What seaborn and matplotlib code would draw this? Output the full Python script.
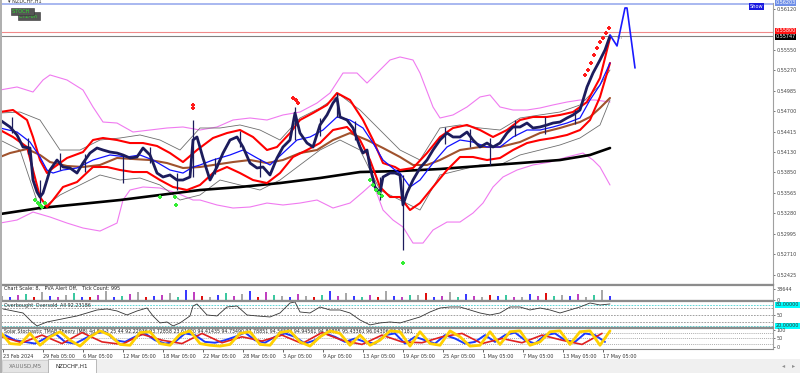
import numpy as np
import matplotlib
matplotlib.use("Agg")
import matplotlib.pyplot as plt
import matplotlib.patches as mpatches
import seaborn as sns

# ---- data (x = chart position, y = price) ----
close_x = [0, 10, 17, 23, 30, 33, 37, 40, 43, 47, 50, 57, 63, 70, 77, 83, 90, 97, 103, 110,
           117, 123, 130, 137, 143, 150, 157, 163, 170, 177, 183, 190, 193, 197, 203, 210, 217,
           223, 230, 237, 243, 250, 257, 263, 270, 277, 283, 290, 295, 300, 307, 313, 320, 327,
           333, 337, 340, 347, 353, 360, 363, 367, 370, 375, 380, 383, 390, 395, 400, 403, 407,
           413, 420, 427, 433, 440, 447, 453, 460, 467, 473, 480, 487, 493, 500, 507, 513, 520,
           527, 533, 540, 547, 553, 560, 567, 573, 580, 587, 593, 600, 605, 610]
close = [0.54577, 0.54480, 0.54369, 0.54202, 0.54188, 0.53743, 0.53576, 0.53507, 0.53562, 0.53743,
         0.53882, 0.54021, 0.53924, 0.53910, 0.53840, 0.53979, 0.54118, 0.54188, 0.54160, 0.54132,
         0.54118, 0.54091, 0.54049, 0.54063, 0.54188, 0.54091, 0.53840, 0.53785, 0.53813, 0.53743,
         0.53743, 0.53785, 0.54299, 0.54341, 0.54049, 0.53743, 0.53924, 0.54118, 0.54299, 0.54341,
         0.54202, 0.53979, 0.53910, 0.53924, 0.53813, 0.54049, 0.54202, 0.54299, 0.54674, 0.54396,
         0.54257, 0.54202, 0.54508, 0.54647, 0.54813, 0.54883, 0.54619, 0.54577, 0.54466, 0.54202,
         0.54118, 0.54160, 0.53924, 0.53646, 0.53562, 0.53785, 0.53840, 0.53840, 0.53813, 0.53396,
         0.53562, 0.53743, 0.53910, 0.54021, 0.54160, 0.54299, 0.54396, 0.54341, 0.54341, 0.54410,
         0.54299, 0.54202, 0.54257, 0.54202, 0.54257, 0.54396, 0.54480, 0.54480, 0.54535, 0.54466,
         0.54480, 0.54508, 0.54535, 0.54549, 0.54605, 0.54647, 0.54716, 0.55036, 0.55230, 0.55411,
         0.55550, 0.55745]

wick_x = [12, 28, 40, 60, 85, 123, 150, 177, 193, 215, 240, 260, 295, 320, 337, 355, 380, 403,
          445, 470, 490, 515, 545, 575]
wick_hi = [0.54620, 0.54330, 0.53743, 0.54120, 0.54100, 0.54091, 0.54200, 0.53840, 0.54577,
           0.54050, 0.54420, 0.54030, 0.54758, 0.54600, 0.54952, 0.54560, 0.53785, 0.53813,
           0.54480, 0.54450, 0.54330, 0.54580, 0.54620, 0.54720]
wick_lo = [0.54400, 0.54100, 0.53368, 0.53880, 0.53860, 0.53701, 0.53980, 0.53604, 0.53785,
           0.53820, 0.54200, 0.53780, 0.54299, 0.54350, 0.54619, 0.54300, 0.53465, 0.52770,
           0.54250, 0.54200, 0.53950, 0.54350, 0.54380, 0.54520]

ma_black_x = [0, 40, 80, 120, 160, 200, 240, 280, 320, 360, 400, 440, 480, 520, 560, 590, 610]
ma_black = [0.53270, 0.53354, 0.53409, 0.53465, 0.53535, 0.53604, 0.53646, 0.53701, 0.53771,
            0.53854, 0.53868, 0.53896, 0.53938, 0.53979, 0.54021, 0.54091, 0.54188]

ma_brown_x = [0, 10, 27, 40, 50, 67, 83, 100, 117, 133, 150, 167, 183, 200, 233, 250, 267, 283,
              300, 317, 333, 350, 367, 383, 400, 413, 427, 440, 460, 480, 500, 520, 540, 560,
              580, 590, 600, 610]
ma_brown = [0.54063, 0.54118, 0.54174, 0.54091, 0.53993, 0.53938, 0.53924, 0.53952, 0.54049,
            0.54035, 0.54021, 0.53979, 0.53910, 0.53924, 0.53993, 0.54021, 0.53979, 0.54021,
            0.54118, 0.54160, 0.54299, 0.54396, 0.54299, 0.54188, 0.54063, 0.53952, 0.53952,
            0.54021, 0.54160, 0.54202, 0.54202, 0.54271, 0.54396, 0.54466, 0.54549, 0.54619,
            0.54744, 0.54883]

ma_blue_x = [0, 17, 30, 40, 47, 53, 63, 77, 93, 110, 127, 140, 153, 170, 183, 193, 200, 213,
             230, 243, 257, 270, 283, 297, 310, 323, 337, 350, 363, 373, 383, 395, 400, 410,
             420, 433, 447, 460, 473, 487, 500, 513, 527, 540, 553, 567, 580, 590, 600, 610]
ma_blue = [0.54466, 0.54410, 0.54271, 0.54063, 0.53882, 0.53840, 0.53882, 0.53910, 0.54021,
           0.54091, 0.54063, 0.54091, 0.54021, 0.53882, 0.53840, 0.53924, 0.53952, 0.54021,
           0.54091, 0.54160, 0.54049, 0.53952, 0.54118, 0.54299, 0.54341, 0.54438, 0.54619,
           0.54577, 0.54466, 0.54257, 0.54021, 0.53882, 0.53840, 0.53646, 0.53743, 0.53979,
           0.54202, 0.54299, 0.54271, 0.54202, 0.54202, 0.54341, 0.54438, 0.54438, 0.54480,
           0.54535, 0.54605, 0.54855, 0.55064, 0.55369]

env_up_x = [0, 13, 27, 33, 40, 47, 53, 67, 83, 93, 103, 117, 130, 143, 157, 170, 183, 197, 213,
            227, 240, 253, 267, 277, 290, 300, 313, 327, 337, 350, 363, 373, 383, 395, 400, 413,
            427, 440, 453, 467, 480, 493, 507, 520, 533, 547, 560, 573, 587, 600, 610]
env_up = [0.54688, 0.54716, 0.54577, 0.54341, 0.54021, 0.53840, 0.53910, 0.54049, 0.54132,
          0.54299, 0.54327, 0.54299, 0.54257, 0.54257, 0.54216, 0.54118, 0.53993, 0.54160,
          0.54327, 0.54396, 0.54438, 0.54341, 0.54160, 0.54202, 0.54396, 0.54577, 0.54674,
          0.54786, 0.54952, 0.54855, 0.54577, 0.54299, 0.53979, 0.53924, 0.53882, 0.53910,
          0.54118, 0.54341, 0.54466, 0.54508, 0.54438, 0.54341, 0.54438, 0.54577, 0.54619,
          0.54619, 0.54647, 0.54688, 0.54827, 0.55161, 0.55717]

env_lo_x = [0, 13, 27, 33, 40, 47, 53, 63, 77, 93, 107, 120, 133, 147, 160, 173, 187, 200, 213,
            227, 240, 253, 267, 280, 293, 307, 320, 333, 347, 360, 370, 380, 390, 400, 410, 420,
            433, 447, 460, 473, 487, 500, 513, 527, 540, 553, 567, 580, 590, 600, 610]
env_lo = [0.54438, 0.54341, 0.54202, 0.53882, 0.53507, 0.53368, 0.53465, 0.53646, 0.53715,
          0.53924, 0.53924, 0.53882, 0.53854, 0.53854, 0.53743, 0.53646, 0.53604, 0.53674,
          0.53840, 0.53924, 0.53840, 0.53743, 0.53701, 0.53840, 0.54063, 0.54160, 0.54257,
          0.54438, 0.54480, 0.54299, 0.54021, 0.53646, 0.53507, 0.53507, 0.53326, 0.53423,
          0.53646, 0.53882, 0.54063, 0.54063, 0.54021, 0.54049, 0.54160, 0.54257, 0.54299,
          0.54327, 0.54369, 0.54438, 0.54577, 0.54897, 0.55369]

bb_up_x = [0, 17, 33, 43, 50, 67, 83, 93, 103, 117, 133, 150, 167, 183, 200, 217, 233, 250, 267,
           283, 300, 317, 330, 343, 357, 367, 377, 390, 400, 413, 420, 433, 440, 453, 467, 480,
           490, 500, 513, 527, 540, 553, 567, 580, 595, 610]
bb_up = [0.54994, 0.55036, 0.54966, 0.55133, 0.55203, 0.55133, 0.54994, 0.54758, 0.54549,
         0.54535, 0.54410, 0.54438, 0.54466, 0.54480, 0.54438, 0.54480, 0.54577, 0.54605,
         0.54577, 0.54647, 0.54688, 0.54813, 0.54952, 0.55230, 0.55230, 0.55091, 0.55230,
         0.55411, 0.55453, 0.55411, 0.55230, 0.54758, 0.54605, 0.54647, 0.54758, 0.54897,
         0.54925, 0.54758, 0.54716, 0.54716, 0.54744, 0.54786, 0.54827, 0.54855, 0.54855,
         0.54827]

bb_lo_x = [0, 17, 33, 50, 67, 83, 100, 117, 123, 130, 143, 160, 177, 193, 200, 217, 233, 250,
           267, 283, 300, 317, 333, 350, 363, 373, 383, 393, 403, 413, 423, 433, 447, 460, 473,
           483, 493, 503, 517, 533, 550, 567, 583, 593, 600, 610]
bb_lo = [0.53145, 0.53187, 0.53298, 0.53229, 0.53145, 0.53076, 0.53034, 0.53145, 0.53465,
         0.53604, 0.53646, 0.53632, 0.53562, 0.53465, 0.53465, 0.53396, 0.53354, 0.53368,
         0.53423, 0.53396, 0.53423, 0.53465, 0.53354, 0.53423, 0.53576, 0.53701, 0.53326,
         0.53187, 0.53090, 0.52867, 0.52867, 0.53048, 0.53159, 0.53159, 0.53284, 0.53423,
         0.53646, 0.53785, 0.53882, 0.53952, 0.53993, 0.54063, 0.54118, 0.54021, 0.53924,
         0.53674]

gray_x = [0, 20, 40, 60, 80, 100, 120, 140, 160, 180, 200, 220, 240, 260, 280, 300, 320, 340,
          360, 380, 400, 420, 440, 460, 480, 500, 520, 540, 560, 580, 600, 610]
gray_up = [0.54674, 0.54688, 0.54577, 0.54160, 0.54160, 0.54299, 0.54327, 0.54369, 0.54299,
           0.54160, 0.54466, 0.54466, 0.54508, 0.54438, 0.54299, 0.54605, 0.54744, 0.54925,
           0.54716, 0.54438, 0.54160, 0.54021, 0.54466, 0.54508, 0.54466, 0.54438, 0.54605,
           0.54647, 0.54688, 0.54786, 0.55064, 0.55272]
gray_lo = [0.54299, 0.54160, 0.53326, 0.53535, 0.53674, 0.53813, 0.53743, 0.53771, 0.53674,
           0.53465, 0.53535, 0.53743, 0.53674, 0.53604, 0.53743, 0.53952, 0.54160, 0.54299,
           0.54160, 0.53604, 0.53465, 0.53326, 0.53813, 0.53882, 0.53952, 0.53952, 0.54091,
           0.54160, 0.54230, 0.54327, 0.54508, 0.54855]

buy_x = [35, 38, 40, 42, 45, 160, 175, 176, 370, 373, 376, 379, 382, 403]
buy_y = [0.53465, 0.53423, 0.53396, 0.53368, 0.53423, 0.53507, 0.53507, 0.53396, 0.53743,
         0.53674, 0.53604, 0.53562, 0.53521, 0.52589]
sell_x = [193, 193, 293, 296, 298, 585, 588, 591, 594, 597, 600, 603, 606, 609]
sell_y = [0.54786, 0.54744, 0.54883, 0.54855, 0.54813, 0.55203, 0.55272, 0.55369, 0.55480,
          0.55578, 0.55661, 0.55717, 0.55786, 0.55856]

proj_x = [610, 617, 625, 627, 635]
proj_y = [0.55759, 0.55606, 0.56134, 0.56134, 0.55300]

# 0.55835 sits under the price tags in the screenshot, so it is not labelled
price_ticks = [0.56120, 0.55550, 0.55270, 0.54985, 0.54700, 0.54415, 0.54130,
               0.53850, 0.53565, 0.53280, 0.52995, 0.52710, 0.52425]

vol = [14000, 9000, 16000, 22000, 12000, 28000, 15000, 10000, 19000, 26000, 12000, 9000,
       17000, 30000, 11000, 14000, 20000, 27000, 10000, 13000, 16000, 24000, 12000, 36000,
       29000, 14000, 11000, 18000, 25000, 13000, 22000, 31000, 12000, 27000, 16000, 15000,
       10000, 21000, 14000, 12000, 18000, 30000, 15000, 26000, 13000, 11000, 17000, 9000,
       32000, 14000, 12000, 19000, 16000, 23000, 11000, 13000, 28000, 10000, 22000, 15000,
       12000, 18000, 14000, 16000, 11000, 12000, 20000, 15000, 26000, 13000, 17000, 14000,
       21000, 12000, 16000, 33000, 15000]
vol_kind = "gbmtrgbmgtbrmgbtmgrbmgtbmrgbtmgbrmtgbmgrtbmgbtmrgbmtgrbmgtbmgrbtmgbmrtgbmgt"

rsi_x = [3, 13, 23, 32, 37, 47, 57, 67, 77, 87, 97, 107, 117, 127, 137, 147, 153, 160, 167, 173,
         180, 190, 193, 197, 207, 217, 227, 237, 247, 257, 270, 280, 290, 295, 300, 310, 320,
         330, 340, 350, 360, 370, 380, 390, 400, 410, 420, 430, 440, 450, 460, 470, 480, 490,
         500, 510, 520, 530, 540, 550, 560, 570, 580, 590, 600, 610]
rsi = [68.6, 62.9, 57.1, 31.4, 20.0, 31.4, 37.1, 42.9, 48.6, 57.1, 65.7, 68.6, 62.9, 51.4, 62.9,
       71.4, 48.6, 28.6, 31.4, 20.0, 28.6, 48.6, 77.1, 82.9, 51.4, 48.6, 74.3, 77.1, 51.4, 48.6,
       45.7, 57.1, 85.7, 88.6, 60.0, 57.1, 74.3, 65.7, 65.7, 57.1, 37.1, 22.9, 28.6, 31.4, 28.6,
       37.1, 45.7, 60.0, 71.4, 74.3, 74.3, 65.7, 57.1, 51.4, 57.1, 74.3, 74.3, 65.7, 71.4, 65.7,
       57.1, 65.7, 74.3, 85.7, 80.0, 82.9]

stoch_y = [90, 20, 15, 80, 10, 60, 90, 40, 5, 60, 95, 70, 15, 10, 85, 90, 20, 10, 75, 95, 20, 10,
           5, 15, 80, 90, 15, 10, 85, 95, 30, 5, 60, 95, 80, 10, 70, 10, 40, 95, 90, 5, 90, 20,
           10, 95, 60, 5, 10, 90, 15, 90, 95, 10, 30, 90, 95, 15, 90, 95, 10, 95]
stoch_b = [70, 40, 30, 20, 50, 80, 30, 20, 50, 80, 90, 40, 30, 60, 80, 40, 20, 30, 80, 70, 30,
           25, 40, 60, 85, 40, 25, 60, 80, 60, 20, 40, 80, 60, 30, 50, 30, 20, 70, 80, 20, 60,
           40, 20, 70, 50, 20, 30, 70, 30, 70, 85, 40, 20, 70, 80, 40, 30, 80, 70, 30]
stoch_r = [60, 25, 70, 20, 85, 30, 15, 75, 40, 20, 80, 25, 60, 35, 70, 20, 85, 40, 15, 70, 30,
           25, 60, 80, 20, 50, 25, 70, 40, 15, 80]

date_pos = [3, 43, 83, 123, 163, 203, 243, 283, 323, 363, 403, 443, 483, 523, 563, 603]
date_labels = ["23 Feb 2024", "29 Feb 05:00", "6 Mar 05:00", "12 Mar 05:00", "18 Mar 05:00",
               "22 Mar 05:00", "28 Mar 05:00", "3 Apr 05:00", "9 Apr 05:00", "13 Apr 05:00",
               "19 Apr 05:00", "25 Apr 05:00", "1 May 05:00", "7 May 05:00", "13 May 05:00",
               "17 May 05:00"]

# ---- drawing ----
sns.set_style("white")
plt.rcParams["font.family"] = ["DejaVu Sans"]
fig = plt.figure(figsize=(8, 3.73), dpi=100)
fig.patch.set_facecolor("white")
FS = 3.5
SEP = "#8c8c8c"


def px_axes(x0, y0, x1, y1):
    return fig.add_axes([x0 / 800, 1 - y1 / 373, (x1 - x0) / 800, (y1 - y0) / 373])


def line(ax, xs, ys, color, lw, z=2):
    sns.lineplot(x=xs, y=ys, ax=ax, color=color, lw=lw, estimator=None, sort=False, zorder=z)


def frame(ax):
    ax.spines["left"].set_visible(False)
    ax.spines["top"].set_color(SEP)
    ax.spines["top"].set_linewidth(1.6)
    ax.spines["bottom"].set_color(SEP)
    ax.spines["bottom"].set_linewidth(0.8)
    ax.spines["right"].set_color("#a0a0a0")
    ax.spines["right"].set_linewidth(0.8)
    ax.set_xlim(1, 773)
    ax.set_xticks([])
    ax.set_facecolor("white")


def right_ticks(ax, ticks, labels):
    ax.yaxis.tick_right()
    ax.set_yticks(ticks)
    ax.set_yticklabels(labels, fontsize=FS, color="#444444")
    ax.tick_params(axis="y", length=1.5, width=0.5, pad=1, colors="#444444")
    ax.set_ylabel("")


# main price window
ax = px_axes(1, 3, 773, 284)
frame(ax)
ax.spines["top"].set_visible(False)
ax.set_ylim(0.52298, 0.56203)

line(ax, bb_up_x, bb_up, "#f07af0", 0.8)
line(ax, bb_lo_x, bb_lo, "#f07af0", 0.8)
line(ax, gray_x, gray_up, "#6e6e6e", 0.6)
line(ax, gray_x, gray_lo, "#6e6e6e", 0.6)
line(ax, ma_black_x, ma_black, "black", 1.9)
line(ax, ma_brown_x, ma_brown, "#a0522d", 1.5)
line(ax, env_up_x, env_up, "#ff0000", 1.5)
line(ax, env_lo_x, env_lo, "#ff0000", 1.5)
line(ax, ma_blue_x, ma_blue, "#1010ff", 0.9)
ax.vlines(wick_x, wick_lo, wick_hi, color="#1c1c5c", lw=0.9, zorder=3)
line(ax, close_x, close, "#1c1c5c", 2.0, z=3)
sns.scatterplot(x=buy_x, y=buy_y, ax=ax, marker="P", s=9, color="#33ee33", edgecolor="none", zorder=4)
sns.scatterplot(x=sell_x, y=sell_y, ax=ax, marker="P", s=11, color="#ff1a1a", edgecolor="none", zorder=4)
line(ax, proj_x, proj_y, "#1a1aff", 1.2, z=5)

ax.axhline(0.55800, color="#f08a8a", lw=0.8, zorder=1)
ax.axhline(0.55747, color="#808080", lw=0.8, zorder=1)
ax.axhline(0.56196, color="#a8b8f0", lw=1.4, zorder=1)

right_ticks(ax, price_ticks, [f"{p:.5f}" for p in price_ticks])
ytr = ax.get_yaxis_transform()
for p, fc, txt in [(0.56203, "#6f8fe8", "0.56203"), (0.55815, "#ff1010", "0.55800"),
                   (0.55735, "black", "0.55747")]:
    ax.text(1.0035, p, txt, transform=ytr, fontsize=FS, color="white", va="center", ha="left",
            bbox=dict(boxstyle="square,pad=0.1", fc=fc, ec="none"), zorder=10, clip_on=False)
ax.text(617, 0.55700, "4h", fontsize=3.3, color="#808080")

# volume window
axv = px_axes(1, 285, 773, 300)
frame(axv)
kinds = {"g": "#a8a8a8", "b": "#3a3aff", "m": "#c040c0", "t": "#3cc8a0", "r": "#e01010"}
vcols = [kinds[vol_kind[i % len(vol_kind)]] for i in range(len(vol))]
axv.bar(np.arange(len(vol)) * 8 + 2, vol, width=1.3, color=vcols, linewidth=0)
axv.set_ylim(0, 52000)
right_ticks(axv, [0, 38644], ["0", "38644"])
axv.text(4, 50000, "Chart Scale: 8,   PVA Alert Off,   Tick Count: 995", fontsize=3.5,
         va="top", color="#222222")

# RSI-type window
axr = px_axes(1, 301, 773, 327)
frame(axr)
axr.set_ylim(17, 91.4)
for lv, c in [(80, "#40d0d0"), (20, "#40d0d0"), (70, "#909090"), (50, "#909090"), (30, "#909090")]:
    axr.axhline(lv, color=c, lw=0.6, ls=(0, (2, 1.5)))
line(axr, rsi_x, rsi, "#333333", 0.6)
right_ticks(axr, [50], ["50"])
ytr = axr.get_yaxis_transform()
for lv, txt in [(80, "80.00000"), (20, "20.00000")]:
    axr.text(1.0035, lv, txt, transform=ytr, fontsize=FS, color="#333333", va="center",
             bbox=dict(boxstyle="square,pad=0.1", fc="#00ffff", ec="none"), clip_on=False)
axr.text(4, 89, "Overbought_Oversold_All 92.23186", fontsize=3.5, va="top", color="#222222")

# stochastic window
axs = px_axes(1, 328, 773, 349)
frame(axs)
axs.set_ylim(-12, 112)
for lv in (80, 50, 20):
    axs.axhline(lv, color="#909090", lw=0.5, ls=(0, (1.5, 1.5)))
n = len(stoch_y)
line(axs, list(np.arange(len(stoch_b)) * 10 + 5), stoch_b, "#1a3aff", 1.4)
line(axs, list(np.arange(len(stoch_r)) * 20 + 2), stoch_r, "#e02020", 1.2)
line(axs, list(np.arange(n) * 10), stoch_y, "#ffd000", 2.0)
right_ticks(axs, [0, 50, 100], ["0", "50", "100"])
axs.text(4, 108, "Solar Stochastic TMAB Theory (M8) 4d 8.4 3 25 44 92.22936 93.72858 23.61620 "
         "94.41435 94.73490 97.78851 94.56584 94.94561 94.81895 95.43361 96.04306 96.12181",
         fontsize=3.4, va="top", color="#222222", zorder=1)
axs.set_xticks(date_pos)
axs.set_xticklabels(date_labels, fontsize=FS, ha="left", color="#333333")
axs.tick_params(axis="x", length=2, width=0.5, pad=1.5, direction="out", bottom=True)
axs.set_xlabel("")

# window furniture
fig.patches.append(mpatches.Rectangle((0, 0), 1, 14 / 373, transform=fig.transFigure,
                                      fc="#f0f0f0", ec="none", zorder=0))
fig.patches.append(mpatches.Rectangle((0, 0), 1.5 / 800, 1, transform=fig.transFigure,
                                      fc="#b0b0b0", ec="none", zorder=0))
fig.patches.append(mpatches.Rectangle((2 / 800, 1 / 373), 46 / 800, 12 / 373,
                                      transform=fig.transFigure, fc="#e4e4e4", ec="#c8c8c8",
                                      lw=0.5, zorder=1))
fig.patches.append(mpatches.Rectangle((48 / 800, 0.5 / 373), 48 / 800, 13.5 / 373,
                                      transform=fig.transFigure, fc="white", ec="#a0a0a0",
                                      lw=0.5, zorder=1))
fig.text(25 / 800, 7 / 373, "XAUUSD,M5", fontsize=4.0, ha="center", va="center", color="#707070")
fig.text(72 / 800, 7 / 373, "NZDCHF,H1", fontsize=4.0, ha="center", va="center", color="#222222")
fig.text(784 / 800, 7 / 373, "◂", fontsize=4.5, ha="center", va="center", color="#909090")
fig.text(794 / 800, 7 / 373, "▸", fontsize=4.5, ha="center", va="center", color="#909090")

fig.text(8 / 800, 1 - 1 / 373, "▾ NZDCHF,H1", fontsize=3.6, va="center", color="#333333")
fig.text(19 / 800, 1 - 16 / 373, "CTZ-on ", fontsize=3.6, va="center", color="#2ee02e",
         bbox=dict(boxstyle="square,pad=0.25", fc="#555555", ec="#333333", lw=0.4))
fig.text(12 / 800, 1 - 11.5 / 373, "STOCH  ", fontsize=3.6, va="center", color="#2ee02e",
         bbox=dict(boxstyle="square,pad=0.25", fc="#555555", ec="#333333", lw=0.4))
fig.text(750 / 800, 1 - 6.5 / 373, "Show", fontsize=3.6, va="center", color="white",
         bbox=dict(boxstyle="square,pad=0.15", fc="#1a1ae0", ec="none"))

fig.savefig("out.png", dpi=100)
